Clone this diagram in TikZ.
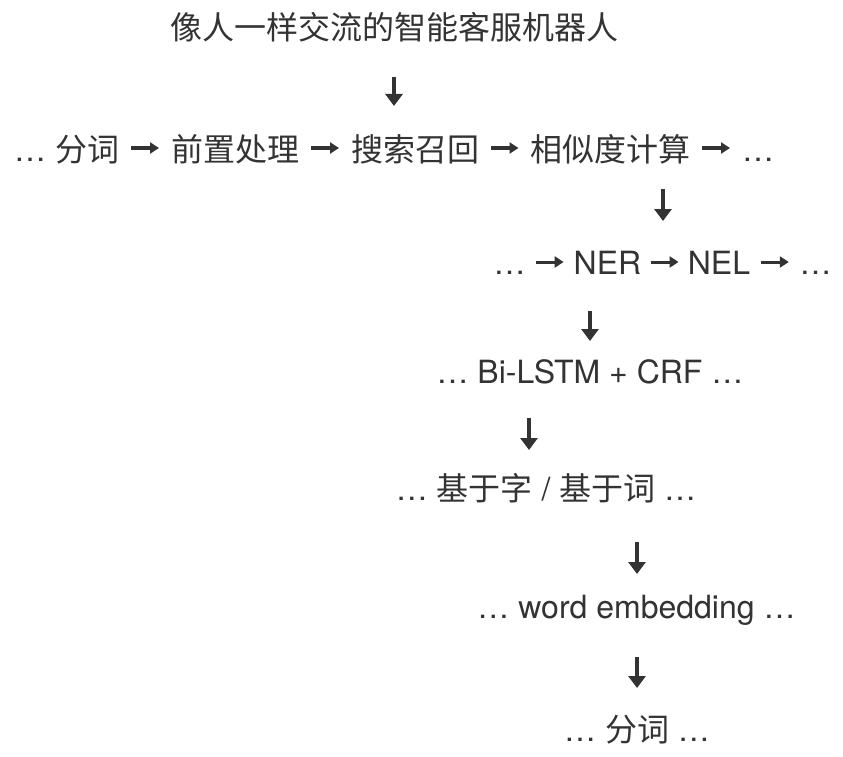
\documentclass[tikz,border=0pt]{standalone}
\usepackage{fontspec}
\setmainfont{TeX Gyre Heros}
\newfontfamily\cjk{Noto Sans CJK SC}
\usetikzlibrary{arrows.meta,calc}
\definecolor{ink}{HTML}{333333}
\begin{document}
\begin{tikzpicture}[x=1pt,y=1pt,
  txt/.style={anchor=base, inner sep=0pt, text=ink, font=\fontsize{32}{38}\selectfont},
  varrow/.style={draw=ink, line width=3.3pt, -{Triangle[width=17pt,length=12pt]}},
  harrow/.style={draw=ink, line width=3pt, -{Triangle[width=11pt,length=9pt]}}]
\useasboundingbox (0,0) rectangle (843,-757);
\fill[white] (0,0) rectangle (843,-757);

% line 1
\node[txt] (title) at (394,-39.5) {\cjk 像人一样交流的智能客服机器人};

% line 2
\node[txt] (d1)  at (30,-161.5)  {…};
\node[txt] (fc)  at (87,-161.5)  {\cjk 分词};
\node[txt] (qz)  at (235,-161.5) {\cjk 前置处理};
\node[txt] (ss)  at (415,-161.5) {\cjk 搜索召回};
\node[txt] (xs)  at (610,-161.5) {\cjk 相似度计算};
\node[txt] (d2)  at (758,-161.5) {…};

% line 3
\node[txt] (d3)  at (509.5,-274) {…};
\node[txt] (ner) at (607.5,-274) {NER};
\node[txt] (nel) at (719,-274)   {NEL};
\node[txt] (d4)  at (815.5,-274) {…};

% lines 4-7
\node[txt] (bilstm) at (590,-383) {… Bi-LSTM + CRF …};
\node[txt] (jy)     at (546,-500) {… {\cjk 基于字} / {\cjk 基于词} …};
\node[txt] (we)     at (636.5,-618) {… word embedding …};
\node[txt] (fc2)    at (637,-741) {… {\cjk 分词} …};

% horizontal arrows
\foreach \a/\b in {fc/qz, qz/ss, ss/xs, xs/d2}
  \draw[harrow] ($(\a.base east)!.5!(\b.base west)+(-14,13.5)$) -- ++(28,0);
\foreach \a/\b in {d3/ner, ner/nel, nel/d4}
  \draw[harrow] ($(\a.base east)!.5!(\b.base west)+(-14,12)$) -- ++(28,0);

% vertical arrows
\coordinate (v1s) at (394,-77);  \coordinate (v1e) at (394,-106);
\coordinate (v2s) at (663,-189); \coordinate (v2e) at (663,-221);
\coordinate (v3s) at (590,-311); \coordinate (v3e) at (590,-341);
\coordinate (v4s) at (529,-418); \coordinate (v4e) at (529,-450);
\coordinate (v5s) at (637,-542); \coordinate (v5e) at (637,-574);
\coordinate (v6s) at (637,-657); \coordinate (v6e) at (637,-688);
\foreach \i in {1,...,6}
  \draw[varrow] (v\i s) -- (v\i e);
\end{tikzpicture}
\end{document}
